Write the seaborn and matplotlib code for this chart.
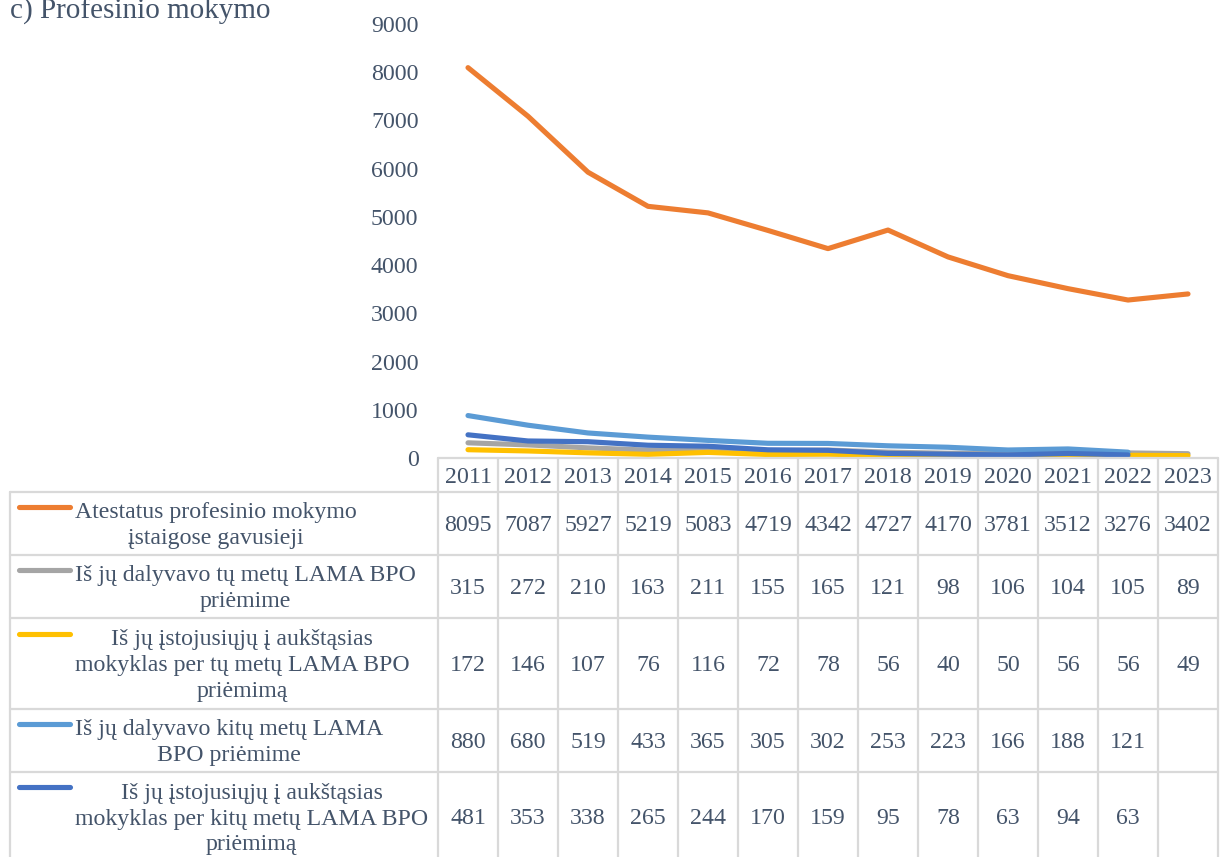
import matplotlib
matplotlib.use("Agg")
import matplotlib.pyplot as plt
from matplotlib.lines import Line2D
import seaborn as sns
import pandas as pd
import numpy as np

# data
years = [2011, 2012, 2013, 2014, 2015, 2016, 2017, 2018, 2019, 2020, 2021, 2022, 2023]
atestatai = [8095, 7087, 5927, 5219, 5083, 4719, 4342, 4727, 4170, 3781, 3512, 3276, 3402]
dalyvavo_tu = [315, 272, 210, 163, 211, 155, 165, 121, 98, 106, 104, 105, 89]
istojo_tu = [172, 146, 107, 76, 116, 72, 78, 56, 40, 50, 56, 56, 49]
dalyvavo_kitu = [880, 680, 519, 433, 365, 305, 302, 253, 223, 166, 188, 121, np.nan]
istojo_kitu = [481, 353, 338, 265, 244, 170, 159, 95, 78, 63, 94, 63, np.nan]

series_names = [
    "Atestatus profesinio mokymo\nįstaigose gavusieji",
    "Iš jų dalyvavo tų metų LAMA BPO\npriėmime",
    "Iš jų įstojusiųjų į aukštąsias\nmokyklas per tų metų LAMA BPO\npriėmimą",
    "Iš jų dalyvavo kitų metų LAMA\nBPO priėmime",
    "Iš jų įstojusiųjų į aukštąsias\nmokyklas per kitų metų LAMA BPO\npriėmimą",
]
series_values = [atestatai, dalyvavo_tu, istojo_tu, dalyvavo_kitu, istojo_kitu]
colors = ["#ED7D31", "#A5A5A5", "#FFC000", "#5B9BD5", "#4472C4"]

title = "c) Profesinio mokymo"
text_col = "#44546A"
grid_col = "#D9D9D9"
fs = 17.2

sns.set_theme(style="white")
plt.rcParams["font.family"] = ["Liberation Serif", "DejaVu Serif"]

W, H = 1220, 857
fig = plt.figure(figsize=(W / 100, H / 100), dpi=100)


def fx(px):
    return px / W


def fy(py):
    return 1 - py / H


# plot area in pixels
x0, x1 = 438, 1218
y_top, y_zero = 24, 458
ax = fig.add_axes([fx(x0), fy(y_zero), fx(x1 - x0), (y_zero - y_top) / H])

rows = []
for name, vals in zip(series_names, series_values):
    for i, v in enumerate(vals):
        rows.append({"pos": i, "value": v, "series": name})
df = pd.DataFrame(rows)

sns.lineplot(data=df, x="pos", y="value", hue="series", hue_order=series_names,
             palette=colors, linewidth=3.7, ax=ax, legend=False, sort=False,
             solid_capstyle="round")

ax.set_xlim(-0.5, len(years) - 0.5)
ax.set_ylim(0, 9000)
ax.set_yticks(range(0, 9001, 1000))
ax.set_yticklabels([str(t) for t in range(0, 9001, 1000)], fontsize=fs, color=text_col)
ax.tick_params(axis="y", length=0, pad=14)
ax.set_xticks([])
ax.set_xlabel("")
ax.set_ylabel("")
for s in ax.spines.values():
    s.set_visible(False)
ax.patch.set_alpha(0)

fig.text(fx(10), fy(19), title, fontsize=21, color=text_col, ha="left", va="baseline")

# data table under the plot
lab_left = 10
row_edges = [458, 492, 555, 618, 709, 772, 862]
col_w = (x1 - x0) / len(years)


def hline(y, xa, xb):
    fig.add_artist(Line2D([fx(xa), fx(xb)], [fy(y), fy(y)], color=grid_col, lw=1.6))


def vline(x, ya, yb):
    fig.add_artist(Line2D([fx(x), fx(x)], [fy(ya), fy(yb)], color=grid_col, lw=1.6))


hline(row_edges[0], x0, x1)
for y in row_edges[1:]:
    hline(y, lab_left, x1)
vline(lab_left, row_edges[1], row_edges[-1])
for k in range(len(years) + 1):
    vline(x0 + k * col_w, row_edges[0], row_edges[-1])

# year header
yc = (row_edges[0] + row_edges[1]) / 2
for k, yr in enumerate(years):
    fig.text(fx(x0 + (k + 0.5) * col_w), fy(yc + 2), str(yr), fontsize=fs,
             color=text_col, ha="center", va="center")

line_h = 27
for r, (name, vals, c) in enumerate(zip(series_names, series_values, colors)):
    top, bot = row_edges[r + 1], row_edges[r + 2]
    mid = (top + bot) / 2
    nlines = name.count("\n") + 1
    first_line = mid - (nlines - 1) * line_h / 2
    fig.add_artist(Line2D([fx(19), fx(70)], [fy(first_line - 3), fy(first_line - 3)],
                          color=c, lw=3.7, solid_capstyle="round"))
    fig.text(fx(75), fy(mid + 2), name, fontsize=fs, color=text_col,
             ha="left", va="center", multialignment="center", linespacing=1.29)
    for k, v in enumerate(vals):
        if pd.isna(v):
            continue
        fig.text(fx(x0 + (k + 0.5) * col_w), fy(mid + 2), f"{int(v)}", fontsize=fs,
                 color=text_col, ha="center", va="center")

fig.savefig("out.png", dpi=100)
